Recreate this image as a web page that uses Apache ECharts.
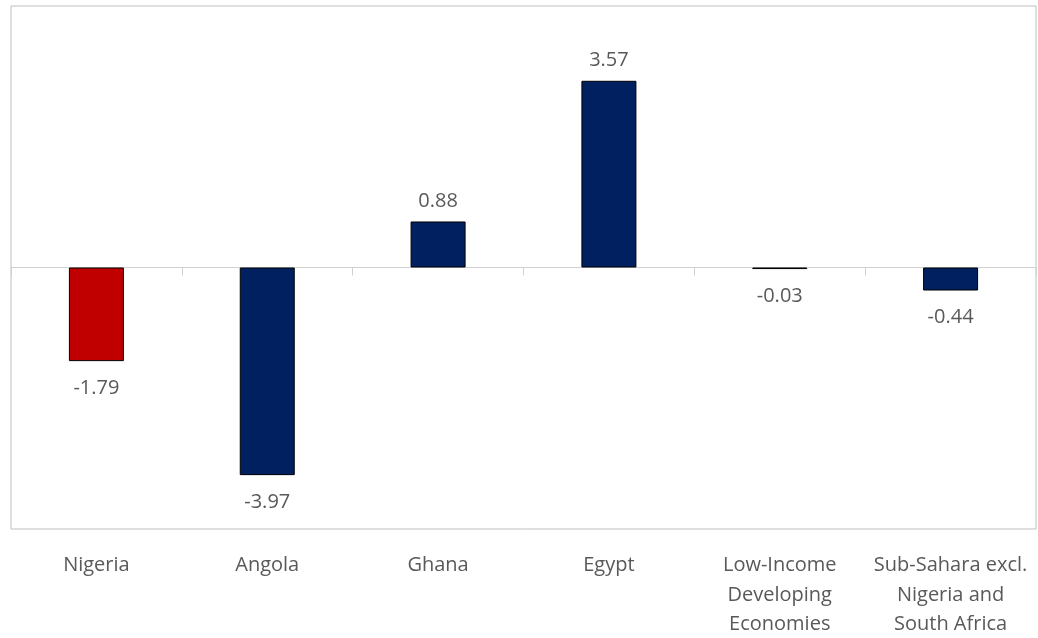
<!DOCTYPE html>
<html>
<head>
<meta charset="utf-8">
<script src="https://cdn.jsdelivr.net/npm/echarts@6/dist/echarts.min.js"></script>
<style>
  html, body { margin: 0; padding: 0; background: #fff; }
  #chart { width: 1038px; height: 638px; }
</style>
</head>
<body>
<div id="chart"></div>
<script>
var categories = ['Nigeria', 'Angola', 'Ghana', 'Egypt', 'Low-Income\nDeveloping\nEconomies', 'Sub-Sahara excl.\nNigeria and\nSouth Africa'];
var values = [-1.79, -3.97, 0.88, 3.57, -0.03, -0.44];
var barColors = ['#C00000', '#002060', '#002060', '#002060', '#002060', '#002060'];

var textColor = '#595959';
var fontFamily = '"Open Sans", "Noto Sans", sans-serif';

var chart = echarts.init(document.getElementById('chart'));

var option = {
  backgroundColor: '#fff',
  animation: false,
  grid: {
    left: 11,
    right: 2,
    top: 6,
    bottom: 109,
    outerBoundsMode: 'none',
    show: true,
    borderColor: '#bfbfbf',
    borderWidth: 1
  },
  xAxis: [{
    type: 'category',
    data: categories,
    axisLine: { onZero: true, lineStyle: { color: '#d0d0d0', width: 1 } },
    axisTick: { show: true, length: 8, lineStyle: { color: '#d0d0d0' } },
    axisLabel: { show: false },
    splitLine: { show: false }
  }, {
    type: 'category',
    data: categories,
    position: 'bottom',
    axisLine: { show: false, onZero: false },
    axisTick: { show: false },
    axisLabel: {
      show: true,
      interval: 0,
      margin: 22,
      color: textColor,
      fontSize: 20,
      lineHeight: 29.5,
      fontFamily: fontFamily
    }
  }],
  yAxis: {
    type: 'value',
    min: -5,
    max: 5,
    show: false,
    splitLine: { show: false }
  },
  series: [{
    type: 'bar',
    barWidth: 55,
    data: values.map(function (v, i) {
      return {
        value: v,
        itemStyle: { color: barColors[i] },
        label: { position: v >= 0 ? 'top' : 'bottom', distance: v >= 0 ? 10 : 17 }
      };
    }),
    itemStyle: { borderColor: '#000', borderWidth: 1 },
    label: {
      show: true,
      color: textColor,
      fontSize: 20,
      fontFamily: fontFamily,
      formatter: function (p) { return p.value.toFixed(2); }
    }
  }]
};

chart.setOption(option);
</script>
</body>
</html>
